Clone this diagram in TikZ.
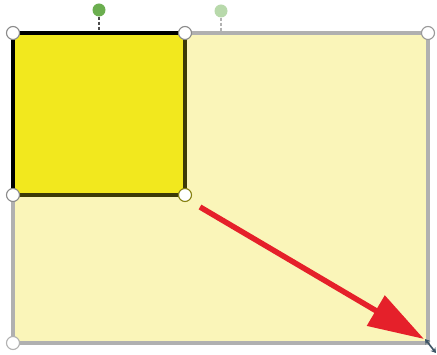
\documentclass[tikz,border=0pt]{standalone}
\usetikzlibrary{arrows.meta}
\definecolor{paleyellow}{HTML}{FAF5B9}
\definecolor{sqyellow}{HTML}{F2E81E}
\definecolor{framegray}{HTML}{B0B0B0}
\definecolor{handlegray}{HTML}{8A8A8A}
\definecolor{arrowred}{HTML}{E5202A}
\definecolor{rotgreen}{HTML}{6BAE4F}
\definecolor{rotpale}{HTML}{B8D9AB}
\definecolor{cursorcol}{HTML}{3E5566}
\tikzset{
  handle/.style={circle,draw=handlegray,fill=white,line width=1.1pt,minimum size=13pt,inner sep=0pt},
  rothandle/.style={circle,fill=rotgreen,minimum size=13pt,inner sep=0pt},
}
\begin{document}
\begin{tikzpicture}[x=1pt,y=-1pt]
\useasboundingbox (0,0) rectangle (437,355);
\fill[white] (0,0) rectangle (437,355);
% big frame
\coordinate (BTL) at (13,33);
\coordinate (BTR) at (428,33);
\coordinate (BBL) at (13,343);
\coordinate (BBR) at (428,343);
\filldraw[fill=paleyellow,draw=framegray,line width=3.6pt] (BTL) rectangle (BBR);
% yellow square
\coordinate (STL) at (13,33);
\coordinate (STR) at (185,33);
\coordinate (SBL) at (13,195);
\coordinate (SBR) at (185,195);
\fill[sqyellow] (STL) rectangle (SBR);
\draw[black,line width=4pt] (SBL) -- (STL) -- (STR);
\draw[black!75!sqyellow,line width=3.4pt] (STR) -- (SBR) -- (SBL);
% rotation handles
\node[rothandle] (rot1) at (99,10) {};
\draw[densely dashed,black!70,line width=1.2pt] (rot1.south) -- (99,31);
\node[rothandle,fill=rotpale] (rot2) at (221,11) {};
\draw[densely dashed,black!30,line width=1.2pt] (rot2.south) -- (221,31);
% handles
\node[handle] (h1) at (STL) {};
\node[handle] (h2) at (STR) {};
\node[handle] (h3) at (SBL) {};
\node[handle,draw=black!45!sqyellow] (h4) at (SBR) {};
\node[handle,draw=black!40] (h5) at (BTR) {};
\node[handle,draw=black!30] (h6) at (BBL) {};
% red arrow
\coordinate (AS) at (200,207);
\coordinate (AE) at (424,339);
\draw[arrowred,line width=5.5pt,-{Triangle[length=56pt,width=34pt]}] (AS) -- (AE);
% cursor
\coordinate (C1) at (425,339);
\coordinate (C2) at (436,353);
\draw[cursorcol,line width=1.6pt,{Stealth[length=5pt,width=6pt]}-{Stealth[length=5pt,width=6pt]}] (C1) -- (C2);
\end{tikzpicture}
\end{document}
